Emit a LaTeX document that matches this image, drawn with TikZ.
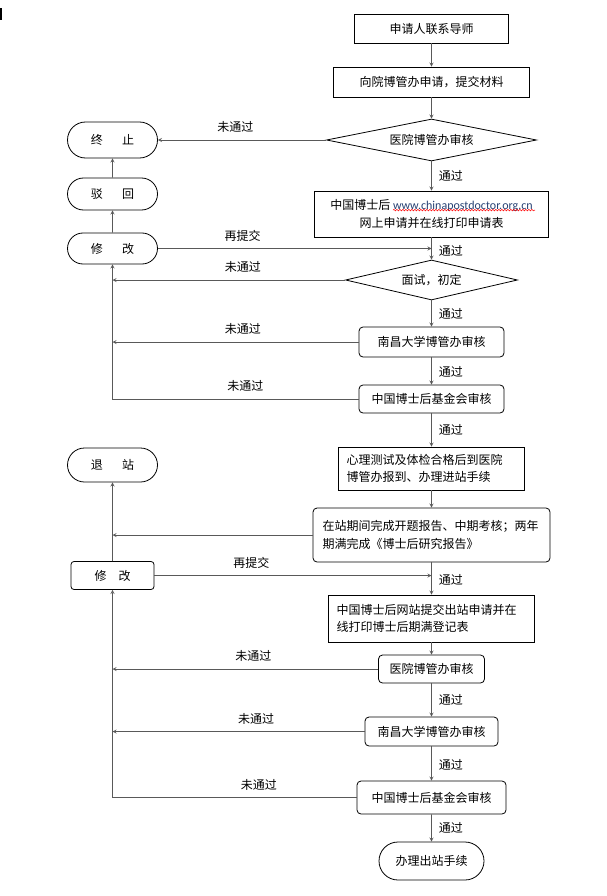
\documentclass[tikz,border=0pt]{standalone}
\usepackage{fontspec}
\setmainfont{Noto Sans CJK SC}
\newfontfamily\urlfont{Carlito}
\usepackage{xcolor}
\usetikzlibrary{shapes.geometric,shapes.misc,decorations.pathmorphing}
\definecolor{linegray}{RGB}{89,89,89}
\definecolor{urlblue}{RGB}{38,64,115}

\begin{document}
\begin{tikzpicture}[
  x=1pt, y=-1pt,
  font=\fontsize{12}{17.5}\selectfont,
  box/.style={draw, rectangle, line width=0.8pt, inner sep=0pt, align=center},
  roundbox/.style={box, rounded corners=4pt},
  textbox/.style={box, align=left, inner xsep=8pt},
  endbox/.style={draw, rounded rectangle, line width=0.8pt, inner sep=0pt, minimum width=90pt},
  decision/.style={draw, diamond, aspect=5, line width=0.8pt, inner sep=0pt},
  arrow/.style={-stealth, line width=0.8pt, linegray},
  lbl/.style={inner sep=1pt, text=black},
  wavy/.style={red, line width=0.5pt, decorate, decoration={snake, amplitude=0.8pt, segment length=3pt}}
]
\fill[white] (0,0) rectangle (607,896);
\useasboundingbox (0,0) rectangle (607,896);
\fill[black] (0,8) rectangle (1.5,20);

% main column
\node[box, minimum width=154pt, minimum height=29pt] (contact) at (431.5,28.5) {申请人联系导师};
\node[box, minimum width=196pt, minimum height=30pt] (submit) at (431.5,82) {向院博管办申请，提交材料};
\node[decision, minimum width=210pt, minimum height=42pt] (hospcheck) at (431.5,140) {医院博管办审核};
\node[box, minimum width=234pt, minimum height=46pt] (online) at (431.5,214) {中国博士后 \textcolor{urlblue}{\urlfont www.chinapostdoctor.org.cn}\\网上申请并在线打印申请表};
\draw[wavy] ([shift={(-38.5,19.5)}]online.north) -- ([shift={(103.5,19.5)}]online.north);
\node[decision, minimum width=172pt, minimum height=40pt] (interview) at (431.5,280) {面试，初定};
\node[roundbox, minimum width=145pt, minimum height=30pt] (ncucheck) at (431.5,342) {南昌大学博管办审核};
\node[roundbox, minimum width=145pt, minimum height=28pt] (fundcheck) at (431.5,399) {中国博士后基金会审核};
\node[textbox, text width=170pt, minimum height=43pt] (enter) at (431.5,468.5) {心理测试及体检合格后到医院\\博管办报到、办理进站手续};
\node[roundbox, align=left, inner xsep=9.5pt, text width=218pt, minimum height=54pt] (stay) at (431.5,535) {在站期间完成开题报告、中期考核；两年\\期满完成《博士后研究报告》};
\node[textbox, text width=190pt, minimum height=47pt] (exitapply) at (431.5,618.5) {中国博士后网站提交出站申请并在\\线打印博士后期满登记表};
\node[roundbox, minimum width=106pt, minimum height=28pt] (hospcheckb) at (431.5,669) {医院博管办审核};
\node[roundbox, minimum width=133pt, minimum height=29pt] (ncucheckb) at (431.5,731.5) {南昌大学博管办审核};
\node[roundbox, minimum width=149pt, minimum height=33pt] (fundcheckb) at (431.5,797.5) {中国博士后基金会审核};
\node[endbox, minimum width=105pt, minimum height=38pt] (leave) at (431.5,861) {办理出站手续};

% left column
\node[endbox, minimum height=36pt] (stop) at (112.5,140) {终\hspace{1.6em}止};
\node[endbox, minimum height=32pt] (reject) at (112.5,194) {驳\hspace{1.6em}回};
\node[endbox, minimum height=31pt] (revise) at (112.5,248.5) {修\hspace{1.6em}改};
\node[endbox, minimum height=34pt] (quit) at (112.5,465) {退\hspace{1.6em}站};
\node[roundbox, rounded corners=3pt, minimum width=83pt, minimum height=28pt] (reviseb) at (112.5,575.5) {修\hspace{1em}改};

% application
\draw[arrow] (contact) -- (submit);
\draw[arrow] (submit) -- (hospcheck);
\draw[arrow] (hospcheck.west) -- (stop.east) node[lbl, pos=0.54, above=6pt] {未通过};
\draw[arrow] (hospcheck.south) -- (online.north) node[lbl, midway, right=6pt] {通过};
\draw[arrow] (reject) -- (stop);
\draw[arrow] (revise) -- (reject);
\draw[arrow] (online) -- (interview) node[lbl, pos=0.6, right=6pt] {通过};
\draw[arrow] (revise.east) -- (revise.east -| online.south) node[lbl, pos=0.31, above=6pt] {再提交};
\draw[arrow] (interview.west) -- (interview.west -| revise.south) node[lbl, pos=0.44, above=6pt] {未通过};
\draw[arrow] (interview) -- (ncucheck) node[lbl, pos=0.52, right=6pt] {通过};
\draw[arrow] (ncucheck.west) -- (ncucheck.west -| revise.south) node[lbl, pos=0.47, above=6pt] {未通过};
\draw[arrow] (fundcheck.west) -- node[lbl, pos=0.46, above=6pt] {未通过} (fundcheck.west -| revise.south) -- (revise.south);
\draw[arrow] (ncucheck) -- (fundcheck) node[lbl, pos=0.54, right=6pt] {通过};
\draw[arrow] (fundcheck) -- (enter) node[lbl, midway, right=6pt] {通过};

% station period
\draw[arrow] (enter) -- (stay);
\draw[arrow] (stay.west) -- (stay.west -| quit.south);
\draw[arrow] (reviseb) -- (quit);
\draw[arrow] (reviseb.east) -- (reviseb.east -| stay.south) node[lbl, pos=0.35, above=6pt] {再提交};
\draw[arrow] (stay) -- (exitapply) node[lbl, pos=0.55, right=6pt] {通过};
\draw[arrow] (exitapply) -- (hospcheckb);
\draw[arrow] (hospcheckb.west) -- (hospcheckb.west -| reviseb.south) node[lbl, pos=0.47, above=6pt] {未通过};
\draw[arrow] (hospcheckb) -- (ncucheckb) node[lbl, midway, right=6pt] {通过};
\draw[arrow] (ncucheckb.west) -- (ncucheckb.west -| reviseb.south) node[lbl, pos=0.43, above=6pt] {未通过};
\draw[arrow] (ncucheckb) -- (fundcheckb) node[lbl, pos=0.54, right=6pt] {通过};
\draw[arrow] (fundcheckb.west) -- node[lbl, pos=0.4, above=6pt] {未通过} (fundcheckb.west -| reviseb.south) -- (reviseb.south);
\draw[arrow] (fundcheckb) -- (leave) node[lbl, midway, right=6pt] {通过};
\end{tikzpicture}
\end{document}
